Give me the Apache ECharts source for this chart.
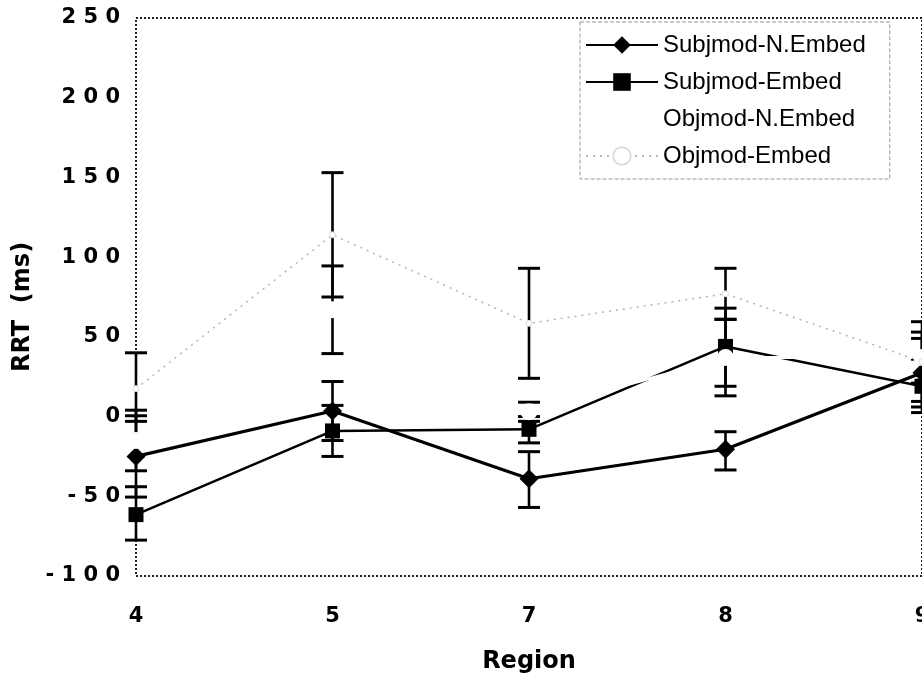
<!DOCTYPE html>
<html>
<head>
<meta charset="utf-8">
<script src="https://cdn.jsdelivr.net/npm/echarts@6/dist/echarts.min.js"></script>
<style>
  html, body { margin: 0; padding: 0; background: #fff; }
  #chart { width: 922px; height: 676px; }
</style>
</head>
<body>
<div id="chart"></div>
<script>
// Regions on the x axis and the y-axis tick values (ms)
const regions = ['4', '5', '7', '8', '9'];
const yTicks = [-100, -50, 0, 50, 100, 150, 200, 250];

// Mean residual reading times per region, with error-bar ends
const subjNEmbed     = [-25, 3.5, -39, -20.5, 27.5];
const subjNEmbedLow  = [-50.5, -15, -57, -33.5, 6];
const subjNEmbedHigh = [0.5, 22, -22, -9.5, 49];

const subjEmbed      = [-61.5, -9, -8, 44, 19];
const subjEmbedLow   = [-77.5, -25, -16.5, 19, 2.5];
const subjEmbedHigh  = [-44, 7, 0, 68, 36];

const objNEmbed      = [-15, 67, 3, 37, 37];
const objNEmbedLow   = [-34, 39.5, -3, 13, 21];
const objNEmbedHigh  = [4, 94.5, 9, 61, 53];

const objEmbed       = [17.5, 114, 58.5, 77, 34.5];
const objEmbedLow    = [-3, 75, 24, 61, 9.5];
const objEmbedHigh   = [40, 153, 93, 93, 59.5];

// [categoryIndex, low, high] rows for the error-bar layer
function barRows(low, high) {
  return regions.map((_, i) => [i, low[i], high[i]]);
}
const errorRows = [].concat(
  barRows(subjNEmbedLow, subjNEmbedHigh),
  barRows(subjEmbedLow, subjEmbedHigh),
  barRows(objNEmbedLow, objNEmbedHigh),
  barRows(objEmbedLow, objEmbedHigh)
);

function renderErrorBar(params, api) {
  const idx = api.value(0);
  const lo = api.coord([idx, api.value(1)]);
  const hi = api.coord([idx, api.value(2)]);
  const half = 11;
  const capStyle = { stroke: '#000', lineWidth: 3 };
  return {
    type: 'group',
    children: [
      { type: 'line', shape: { x1: hi[0], y1: hi[1], x2: lo[0], y2: lo[1] }, style: { stroke: '#000', lineWidth: 2.6 } },
      { type: 'line', shape: { x1: hi[0] - half, y1: hi[1], x2: hi[0] + half, y2: hi[1] }, style: capStyle },
      { type: 'line', shape: { x1: lo[0] - half, y1: lo[1], x2: lo[0] + half, y2: lo[1] }, style: capStyle }
    ]
  };
}

// Tick labels are set with open letter spacing
function spaced(v) {
  return String(v).split('').join(' ');
}

const chart = echarts.init(document.getElementById('chart'), null, { renderer: 'canvas' });

chart.setOption({
  animation: false,
  backgroundColor: '#fff',
  grid: {
    left: 136, right: 0, top: 18, bottom: 100,
    outerBoundsMode: 'none',
    containLabel: false,
    show: true,
    borderColor: '#222',
    borderWidth: 2,
    borderType: 'dotted',
    backgroundColor: 'transparent'
  },
  legend: {
    orient: 'vertical',
    left: 580,
    top: 22,
    padding: [11, 24, 11, 5],
    itemWidth: 72,
    itemHeight: 22,
    itemGap: 13,
    borderColor: '#999',
    borderWidth: 1,
    borderType: 'dashed',
    data: ['Subjmod-N.Embed', 'Subjmod-Embed', 'Objmod-N.Embed', 'Objmod-Embed'],
    textStyle: {
      fontFamily: '"Liberation Sans", Arial, sans-serif',
      fontSize: 24,
      color: '#000'
    }
  },
  xAxis: {
    type: 'category',
    data: regions,
    boundaryGap: false,
    axisLine: { show: false },
    axisTick: { show: false },
    splitLine: { show: false },
    axisLabel: {
      margin: 30,
      fontFamily: '"DejaVu Sans", sans-serif',
      fontWeight: 'bold',
      fontSize: 21,
      color: '#000'
    },
    name: 'Region',
    nameLocation: 'middle',
    nameGap: 74,
    nameTextStyle: {
      fontFamily: '"DejaVu Sans", sans-serif',
      fontWeight: 'bold',
      fontSize: 24,
      color: '#000'
    }
  },
  yAxis: {
    type: 'value',
    min: yTicks[0],
    max: yTicks[yTicks.length - 1],
    interval: 50,
    axisLine: { show: false },
    axisTick: { show: false },
    splitLine: { show: false },
    axisLabel: {
      margin: 16,
      formatter: spaced,
      fontFamily: '"DejaVu Sans", sans-serif',
      fontWeight: 'bold',
      fontSize: 21,
      color: '#000'
    },
    name: 'RRT  (ms)',
    nameLocation: 'middle',
    nameRotate: 90,
    nameGap: 100,
    nameTextStyle: {
      fontFamily: '"DejaVu Sans", sans-serif',
      fontWeight: 'bold',
      fontSize: 24,
      color: '#000',
      padding: [0, 20, 0, 0]
    }
  },
  series: [
    {
      name: 'errors',
      type: 'custom',
      renderItem: renderErrorBar,
      data: errorRows,
      encode: { x: 0, y: [1, 2] },
      z: 1,
      silent: true
    },
    {
      name: 'Subjmod-N.Embed',
      type: 'line',
      data: subjNEmbed,
      symbol: 'diamond',
      symbolSize: 19,
      color: '#000',
      lineStyle: { color: '#000', width: 3.2 },
      itemStyle: { color: '#000' },
      z: 2
    },
    {
      name: 'Subjmod-Embed',
      type: 'line',
      data: subjEmbed,
      symbol: 'rect',
      symbolSize: 15,
      color: '#000',
      lineStyle: { color: '#000', width: 2.5 },
      itemStyle: { color: '#000' },
      z: 2
    },
    {
      name: 'Objmod-N.Embed',
      type: 'line',
      data: objNEmbed,
      symbol: 'circle',
      symbolSize: 17,
      color: '#fff',
      lineStyle: { color: '#fff', width: 3 },
      itemStyle: { color: '#fff' },
      z: 3
    },
    {
      name: 'Objmod-Embed',
      type: 'line',
      data: objEmbed,
      symbol: 'circle',
      symbolSize: 6,
      color: '#bbb',
      lineStyle: { color: '#b5b5b5', width: 1.5, type: [2, 5] },
      itemStyle: { color: '#fff', borderColor: '#ddd', borderWidth: 1 },
      z: 3
    }
  ]
});
</script>
</body>
</html>
